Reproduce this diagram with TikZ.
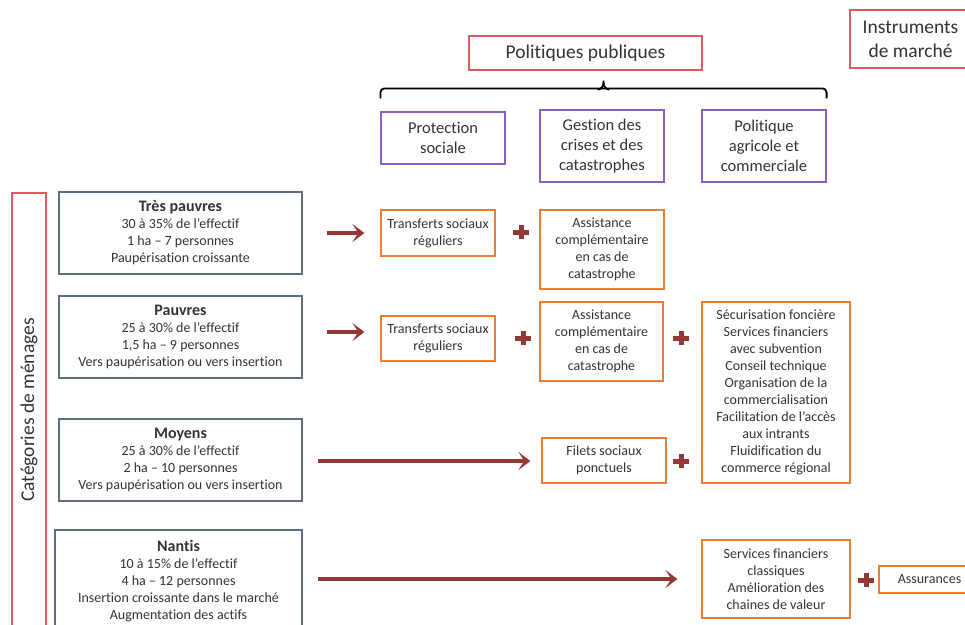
\documentclass[tikz,border=0pt]{standalone}
\usepackage{fontspec}
\setmainfont{Carlito}[Ligatures={NoCommon}]
\usetikzlibrary{arrows.meta,calc}
\definecolor{txt}{HTML}{333333}
\definecolor{redb}{HTML}{DD5C5C}
\definecolor{purpleb}{HTML}{8B5FBF}
\definecolor{orangeb}{HTML}{ED7D31}
\definecolor{grayb}{HTML}{5F6E80}
\definecolor{arrc}{HTML}{953735}
\begin{document}
\begin{tikzpicture}[x=1pt,y=-1pt,
  every node/.style={text=txt, align=center, inner sep=0pt},
  catbox/.style={draw=grayb, line width=2.5pt, minimum width=243pt, minimum height=82pt, font=\fontsize{14}{17}\selectfont},
  obox/.style={draw=orangeb, line width=1.2pt, font=\fontsize{14}{17}\selectfont},
  pbox/.style={draw=purpleb, line width=1.2pt, minimum width=124pt, font=\fontsize{16.5}{20}\selectfont},
  rbox/.style={draw=redb, line width=1.2pt, font=\fontsize{19.5}{24}\selectfont},
  arr/.style={draw=arrc, line width=4pt, -{Stealth[length=12pt,width=18pt,inset=6pt]}},
  plus/.style={minimum width=16pt, minimum height=14pt, path picture={
      \fill[arrc] ([xshift=-8pt,yshift=-2.5pt]path picture bounding box.center) rectangle ([xshift=8pt,yshift=2.5pt]path picture bounding box.center);
      \fill[arrc] ([xshift=-2.5pt,yshift=-7pt]path picture bounding box.center) rectangle ([xshift=2.5pt,yshift=7pt]path picture bounding box.center);}},
]
\useasboundingbox (0,0) rectangle (965,624);
\clip (0,0) rectangle (965,624);

% left category label
\node[draw=redb, line width=1.2pt, minimum width=34pt, minimum height=434pt] (cat) at (29,410) {};
\node[rotate=90, font=\fontsize{19.5}{24}\selectfont] (catlbl) at (cat.center) {Catégories de ménages};

% household categories
\node[catbox] (tp) at (180.5,233) {{\fontsize{16}{17}\selectfont\bfseries Très pauvres}\\30 à 35\% de l’effectif\\1 ha – 7 personnes\\Paupérisation croissante};
\node[catbox] (pv) at (180.5,337) {{\fontsize{16}{17}\selectfont\bfseries Pauvres}\\25 à 30\% de l’effectif\\1,5 ha – 9 personnes\\Vers paupérisation ou vers insertion};
\node[catbox] (mo) at (180.5,460) {{\fontsize{16}{17}\selectfont\bfseries Moyens}\\25 à 30\% de l’effectif\\2 ha – 10 personnes\\Vers paupérisation ou vers insertion};
\node[catbox, minimum width=247pt, minimum height=102pt] (na) at (178.5,581) {{\fontsize{16}{17}\selectfont\bfseries Nantis}\\10 à 15\% de l’effectif\\4 ha – 12 personnes\\Insertion croissante dans le marché\\Augmentation des actifs};

% headers
\node[rbox, minimum width=233pt, minimum height=34pt] (pp) at (585.5,53) {Politiques publiques};
\node[rbox, minimum width=121pt, minimum height=58pt] (im) at (910.5,39) {Instruments\\de marché};
\node[pbox, minimum height=52pt] (ps) at (443,138) {Protection\\sociale};
\node[pbox, minimum height=72pt] (gc) at (602,146) {Gestion des\\crises et des\\catastrophes};
\node[pbox, minimum height=72pt] (pa) at (764,146) {Politique\\agricole et\\commerciale};

% brace
\coordinate (bc) at ($(ps.west)!0.5!(pa.east)$);
\draw[line width=1.8pt, rounded corners=4pt] ($(ps.north west)+(0,-13)$) |- ($(pa.north east)+(0,-21)$) -- ($(pa.north east)+(0,-11)$);
\draw[line width=1.8pt] ($(bc |- pp.south)+(-6,19)$) to[out=0,in=-90] ($(bc |- pp.south)+(0,12)$) -- ($(bc |- pp.south)+(0,10)$);
\draw[line width=1.8pt] ($(bc |- pp.south)+(6,19)$) to[out=180,in=-90] ($(bc |- pp.south)+(0,12)$);

% orange boxes
\node[obox, minimum width=114pt, minimum height=46pt] (tr1) at (438,233) {Transferts sociaux\\réguliers};
\node[obox, minimum width=124pt, minimum height=79pt] (as1) at (602,249.5) {Assistance\\complémentaire\\en cas de\\catastrophe};
\node[obox, minimum width=114pt, minimum height=45pt] (tr2) at (438,338.5) {Transferts sociaux\\réguliers};
\node[obox, minimum width=123pt, minimum height=79pt] (as2) at (601.5,341.5) {Assistance\\complémentaire\\en cas de\\catastrophe};
\node[obox, minimum width=148pt, minimum height=181pt] (sec) at (776,392.5) {Sécurisation foncière\\Services financiers\\avec subvention\\Conseil technique\\Organisation de la\\commercialisation\\Facilitation de l’accès\\aux intrants\\Fluidification du\\commerce régional};
\node[obox, minimum width=124pt, minimum height=45pt] (fil) at (604,460.5) {Filets sociaux\\ponctuels};
\node[obox, minimum width=148pt, minimum height=78pt] (svc) at (776,579) {Services financiers\\classiques\\Amélioration des\\chaines de valeur};
\node[obox, minimum width=101pt, minimum height=27pt] (ass) at (929.5,579.5) {Assurances};

% plus signs
\node[plus] (p1) at (521,232) {};
\node[plus] (p2) at (523,338) {};
\node[plus] (p3) at (681,338) {};
\node[plus] (p4) at (681,461) {};
\node[plus] (p5) at (866,580) {};

% arrows
\draw[arr, shorten <=24pt, shorten >=16pt] (tp.east) -- (tp.east -| tr1.west);
\draw[arr, shorten <=24pt, shorten >=16pt] ([yshift=5pt]pv.east) -- ([yshift=5pt]pv.east -| tr2.west);
\draw[arr, shorten <=15pt, shorten >=11pt] ([yshift=-1pt]mo.east) -- ([yshift=-1pt]mo.east -| fil.west);
\draw[arr, shorten <=15pt, shorten >=24pt] ([yshift=2pt]na.east) -- ([yshift=2pt]na.east -| svc.west);
\end{tikzpicture}
\end{document}
